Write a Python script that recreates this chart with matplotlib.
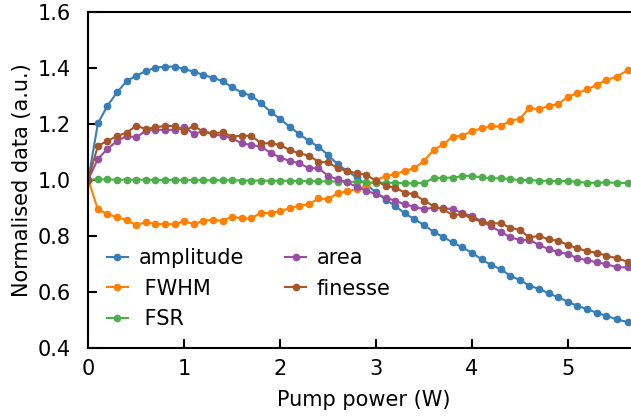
import matplotlib
matplotlib.use("Agg")
import matplotlib.pyplot as plt

# Pump power (W)
power = [0.0, 0.1, 0.2, 0.3, 0.4, 0.5, 0.6, 0.7, 0.8, 0.9,
         1.0, 1.1, 1.2, 1.3, 1.4, 1.5, 1.6, 1.7, 1.8, 1.9,
         2.0, 2.1, 2.2, 2.3, 2.4, 2.5, 2.6, 2.7, 2.8, 2.9,
         3.0, 3.1, 3.2, 3.3, 3.4, 3.5, 3.6, 3.7, 3.8, 3.9,
         4.0, 4.1, 4.2, 4.3, 4.4, 4.5, 4.6, 4.7, 4.8, 4.9,
         5.0, 5.1, 5.2, 5.3, 5.4, 5.51, 5.63]

amplitude = [1.0, 1.201, 1.264, 1.312, 1.352, 1.371, 1.388, 1.400, 1.404, 1.404,
             1.395, 1.386, 1.374, 1.364, 1.352, 1.330, 1.311, 1.300, 1.273, 1.243,
             1.217, 1.189, 1.163, 1.138, 1.118, 1.088, 1.055, 1.031, 1.008, 0.982,
             0.955, 0.929, 0.906, 0.880, 0.859, 0.838, 0.814, 0.795, 0.776, 0.758,
             0.739, 0.716, 0.695, 0.681, 0.656, 0.642, 0.621, 0.610, 0.594, 0.580,
             0.564, 0.549, 0.538, 0.525, 0.514, 0.501, 0.491]

fwhm = [1.0, 0.894, 0.877, 0.866, 0.856, 0.838, 0.848, 0.842, 0.841, 0.841,
        0.852, 0.841, 0.854, 0.856, 0.854, 0.868, 0.862, 0.862, 0.882, 0.880,
        0.888, 0.898, 0.907, 0.912, 0.933, 0.931, 0.951, 0.959, 0.966, 0.976,
        0.998, 1.013, 1.019, 1.032, 1.041, 1.067, 1.106, 1.126, 1.154, 1.157,
        1.174, 1.183, 1.190, 1.190, 1.211, 1.217, 1.257, 1.251, 1.264, 1.270,
        1.296, 1.309, 1.323, 1.338, 1.356, 1.368, 1.392]

fsr = [1.0, 1.001, 1.001, 1.0, 1.0, 1.0, 1.0, 0.999, 0.999, 1.0,
       0.999, 0.999, 0.998, 0.998, 0.998, 0.998, 0.997, 0.997, 0.997, 0.996,
       0.996, 0.996, 0.995, 0.995, 0.994, 0.994, 0.993, 0.993, 0.992, 0.990,
       0.989, 0.989, 0.989, 0.987, 0.987, 0.989, 1.005, 1.007, 1.007, 1.013,
       1.014, 1.008, 1.005, 1.005, 1.002, 0.999, 0.999, 0.996, 0.996, 0.995,
       0.995, 0.992, 0.989, 0.989, 0.990, 0.989, 0.988]

area = [1.0, 1.074, 1.110, 1.138, 1.156, 1.151, 1.175, 1.178, 1.178, 1.178,
        1.189, 1.163, 1.174, 1.162, 1.157, 1.148, 1.130, 1.124, 1.118, 1.096,
        1.079, 1.067, 1.059, 1.041, 1.041, 1.014, 1.001, 0.990, 0.975, 0.960,
        0.949, 0.936, 0.925, 0.912, 0.903, 0.895, 0.900, 0.898, 0.895, 0.880,
        0.870, 0.852, 0.833, 0.814, 0.794, 0.785, 0.785, 0.767, 0.752, 0.741,
        0.735, 0.719, 0.713, 0.705, 0.699, 0.687, 0.687]

finesse = [1.0, 1.121, 1.138, 1.156, 1.168, 1.193, 1.181, 1.187, 1.192, 1.192,
           1.174, 1.192, 1.171, 1.166, 1.169, 1.154, 1.157, 1.157, 1.130, 1.130,
           1.124, 1.106, 1.094, 1.086, 1.064, 1.062, 1.041, 1.031, 1.023, 1.017,
           0.996, 0.978, 0.971, 0.954, 0.948, 0.925, 0.906, 0.894, 0.874, 0.876,
           0.862, 0.850, 0.844, 0.844, 0.829, 0.820, 0.794, 0.799, 0.787, 0.782,
           0.767, 0.755, 0.745, 0.739, 0.729, 0.719, 0.707]

series = [
    ("amplitude", amplitude, "#377eb8"),
    (" FWHM", fwhm, "#ff7f00"),
    (" FSR", fsr, "#4daf4a"),
    ("area", area, "#984ea3"),
    ("finesse", finesse, "#a65628"),
]

plt.rcParams["font.family"] = "DejaVu Sans"
plt.rcParams["font.size"] = 15

fig = plt.figure(figsize=(6.31, 4.19), dpi=100)
ax = fig.add_axes([0.1399, 0.1702, 0.8740, 0.8019])

for label, vals, color in series:
    ax.plot(power, vals, "-o", color=color, lw=1.5, ms=4.5, label=label)

ax.set_xlim(0, 5.75)
ax.set_ylim(0.4, 1.6)
ax.set_xticks([0, 1, 2, 3, 4, 5])
ax.set_yticks([0.4, 0.6, 0.8, 1.0, 1.2, 1.4, 1.6])
ax.set_xlabel("Pump power (W)", labelpad=8)
ax.set_ylabel("Normalised data (a.u.)", labelpad=4)

for s in ax.spines.values():
    s.set_linewidth(1.5)
ax.spines["right"].set_visible(False)
ax.tick_params(direction="in", length=6.7, width=1.5, labelsize=15)
ax.tick_params(axis="x", pad=8)
ax.tick_params(axis="y", pad=12.5)

ax.legend(loc="lower left", ncol=2, frameon=False, fontsize=15,
          handlelength=1.0, handletextpad=0.5, labelspacing=0.5,
          columnspacing=2.0)

fig.savefig("out.png", dpi=100)
